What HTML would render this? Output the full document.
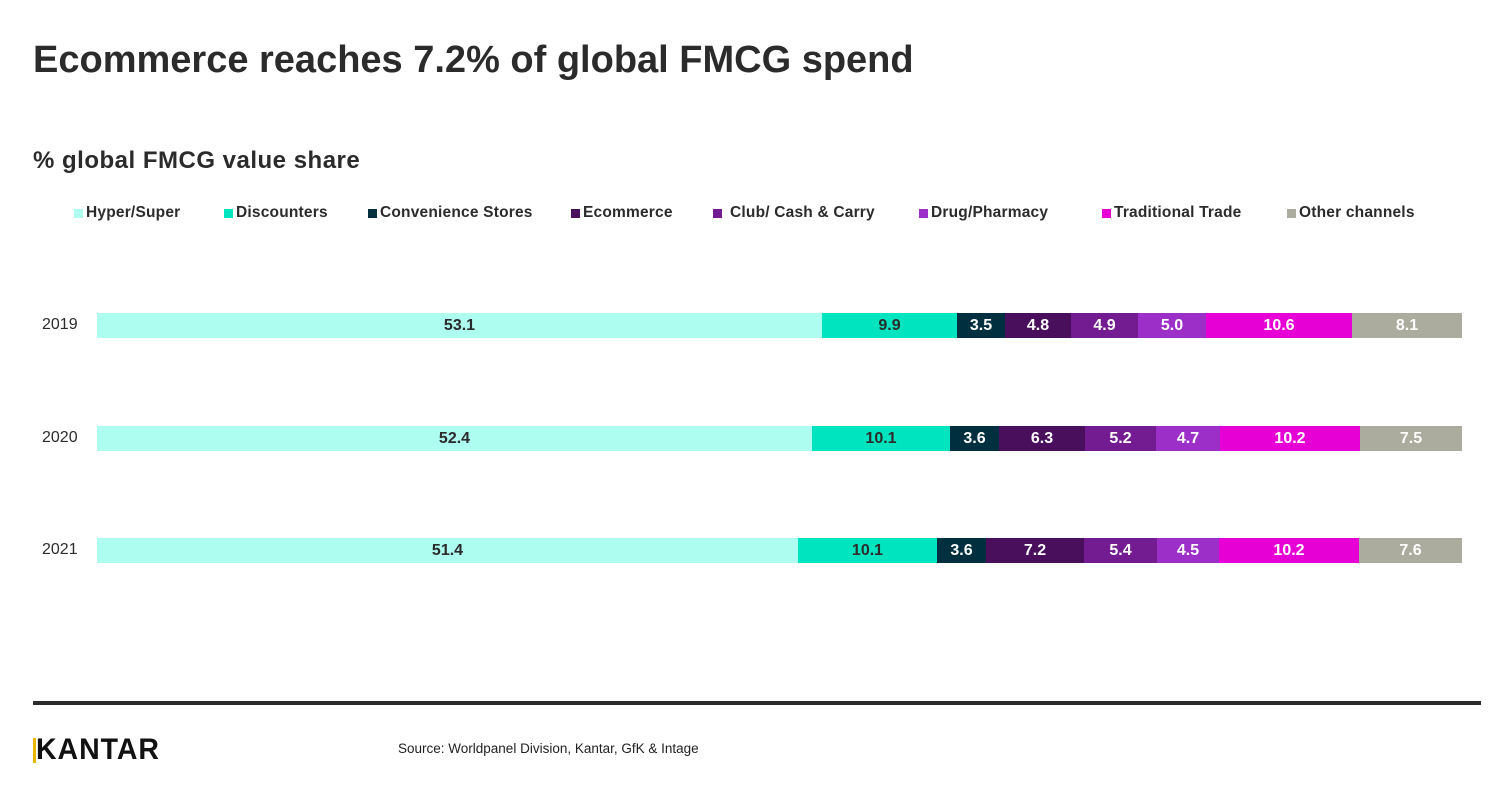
<!DOCTYPE html>
<html><head><meta charset="utf-8"><style>
body{margin:0;width:1500px;height:787px;background:#fff;position:relative;font-family:"Liberation Sans",sans-serif;color:#2b2b2b;overflow:hidden}
.a{position:absolute;white-space:nowrap}
.seg{position:absolute;height:25px;line-height:25px;text-align:center;font-size:16px;font-weight:bold;color:#fff}
.sq{position:absolute;width:9px;height:9px;top:209px}
.lg{position:absolute;top:204px;font-size:15.5px;font-weight:bold;color:#2b2b2b;letter-spacing:0.2px}
.yr{position:absolute;font-size:16px;left:42px;color:#2b2b2b}
</style></head><body>
<div class="a" style="left:33px;top:39px;font-size:38px;font-weight:bold;letter-spacing:0px">Ecommerce reaches 7.2% of global FMCG spend</div>
<div class="a" style="left:33px;top:147px;font-size:24px;font-weight:bold;letter-spacing:0.5px">% global FMCG value share</div>

<div class="sq" style="left:74px;background:#adfdf0"></div><div class="lg" style="left:86px">Hyper/Super</div>
<div class="sq" style="left:224px;background:#00e5c0"></div><div class="lg" style="left:236px">Discounters</div>
<div class="sq" style="left:368px;background:#003040"></div><div class="lg" style="left:380px">Convenience Stores</div>
<div class="sq" style="left:571px;background:#4a0f5c"></div><div class="lg" style="left:583px">Ecommerce</div>
<div class="sq" style="left:713px;background:#731c91"></div><div class="lg" style="left:730px">Club/ Cash &amp; Carry</div>
<div class="sq" style="left:919px;background:#9b2fc8"></div><div class="lg" style="left:931px">Drug/Pharmacy</div>
<div class="sq" style="left:1102px;background:#e600d6"></div><div class="lg" style="left:1114px">Traditional Trade</div>
<div class="sq" style="left:1287px;background:#abab9e"></div><div class="lg" style="left:1299px">Other channels</div>

<div class="yr" style="top:316px">2019</div>
<div class="yr" style="top:429px">2020</div>
<div class="yr" style="top:541px">2021</div>

<div style="position:absolute;top:313px;left:0">
<div class="seg" style="left:97px;width:725px;background:#adfdf0;color:#2b2b2b">53.1</div>
<div class="seg" style="left:822px;width:135px;background:#00e5c0;color:#2b2b2b">9.9</div>
<div class="seg" style="left:957px;width:48px;background:#003040">3.5</div>
<div class="seg" style="left:1005px;width:66px;background:#4a0f5c">4.8</div>
<div class="seg" style="left:1071px;width:67px;background:#731c91">4.9</div>
<div class="seg" style="left:1138px;width:68px;background:#9b2fc8">5.0</div>
<div class="seg" style="left:1206px;width:146px;background:#e600d6">10.6</div>
<div class="seg" style="left:1352px;width:110px;background:#abab9e">8.1</div>
</div>
<div style="position:absolute;top:426px;left:0">
<div class="seg" style="left:97px;width:715px;background:#adfdf0;color:#2b2b2b">52.4</div>
<div class="seg" style="left:812px;width:138px;background:#00e5c0;color:#2b2b2b">10.1</div>
<div class="seg" style="left:950px;width:49px;background:#003040">3.6</div>
<div class="seg" style="left:999px;width:86px;background:#4a0f5c">6.3</div>
<div class="seg" style="left:1085px;width:71px;background:#731c91">5.2</div>
<div class="seg" style="left:1156px;width:64px;background:#9b2fc8">4.7</div>
<div class="seg" style="left:1220px;width:140px;background:#e600d6">10.2</div>
<div class="seg" style="left:1360px;width:102px;background:#abab9e">7.5</div>
</div>
<div style="position:absolute;top:538px;left:0">
<div class="seg" style="left:97px;width:701px;background:#adfdf0;color:#2b2b2b">51.4</div>
<div class="seg" style="left:798px;width:139px;background:#00e5c0;color:#2b2b2b">10.1</div>
<div class="seg" style="left:937px;width:49px;background:#003040">3.6</div>
<div class="seg" style="left:986px;width:98px;background:#4a0f5c">7.2</div>
<div class="seg" style="left:1084px;width:73px;background:#731c91">5.4</div>
<div class="seg" style="left:1157px;width:62px;background:#9b2fc8">4.5</div>
<div class="seg" style="left:1219px;width:140px;background:#e600d6">10.2</div>
<div class="seg" style="left:1359px;width:103px;background:#abab9e">7.6</div>
</div>

<div style="position:absolute;left:33px;top:701px;width:1448px;height:4px;background:#2b2b2b"></div>
<div style="position:absolute;left:33px;top:738px;width:3px;height:25px;background:#e8b800"></div>
<div class="a" style="left:36px;top:733px;font-size:30px;font-weight:bold;color:#111;letter-spacing:1px;transform:scaleX(0.95);transform-origin:left">KANTAR</div>
<div class="a" style="left:398px;top:741px;font-size:13.5px;color:#222">Source: Worldpanel Division, Kantar, GfK &amp; Intage</div>
</body></html>
